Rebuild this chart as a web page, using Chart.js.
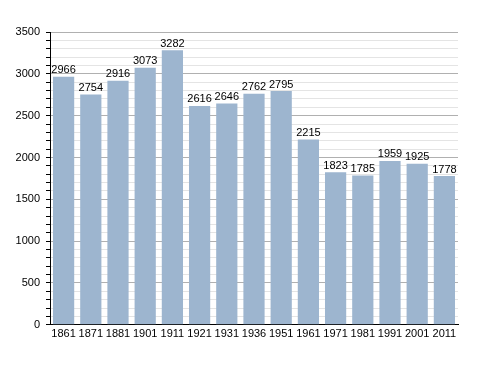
<!DOCTYPE html>
<html>
<head>
<meta charset="utf-8">
<script src="https://cdn.jsdelivr.net/npm/chart.js@4/dist/chart.umd.min.js"></script>
<style>
  html, body { margin: 0; padding: 0; background: #fff; }
  #wrap { width: 488px; height: 373px; }
</style>
</head>
<body>
<div id="wrap"><canvas id="popChart"></canvas></div>
<script>
// Population chart data
const years = ['1861', '1871', '1881', '1901', '1911', '1921', '1931', '1936',
               '1951', '1961', '1971', '1981', '1991', '2001', '2011'];
const population = [2966, 2754, 2916, 3073, 3282, 2616, 2646, 2762,
                    2795, 2215, 1823, 1785, 1959, 1925, 1778];
const yTicks = [0, 500, 1000, 1500, 2000, 2500, 3000, 3500];

// draws the value above each bar
const valueLabels = {
    id: 'valueLabels',
    afterDatasetsDraw(chart) {
        const ctx = chart.ctx;
        const meta = chart.getDatasetMeta(0);
        ctx.save();
        ctx.font = '11px "Liberation Sans", Arial, sans-serif';
        ctx.fillStyle = '#000';
        ctx.textAlign = 'center';
        ctx.textBaseline = 'bottom';
        meta.data.forEach((bar, i) => {
            ctx.fillText(String(population[i]), bar.x, bar.y - 1);
        });
        ctx.restore();
    }
};

new Chart(document.getElementById('popChart'), {
    type: 'bar',
    data: {
        labels: years,
        datasets: [{
            data: population,
            backgroundColor: '#9db5cf',
            borderWidth: 0,
            categoryPercentage: 1,
            barPercentage: 0.78
        }]
    },
    options: {
        responsive: true,
        maintainAspectRatio: false,
        animation: false,
        layout: { padding: { top: 32, right: 30, bottom: 29, left: 0 } },
        plugins: {
            legend: { display: false },
            tooltip: { enabled: false }
        },
        scales: {
            x: {
                grid: { display: false, drawTicks: false },
                border: { color: '#000', width: 1 },
                ticks: {
                    color: '#000',
                    padding: 3,
                    maxRotation: 0,
                    autoSkip: false,
                    font: { family: '"Liberation Sans", Arial, sans-serif', size: 11 }
                }
            },
            y: {
                min: 0,
                max: 3500,
                afterFit(scale) { scale.width = 50; },
                border: { color: '#000', width: 1 },
                grid: {
                    color: (c) => (c.tick.value % 500 === 0 ? '#b0b0b0' : '#e4e4e4'),
                    tickColor: '#000',
                    tickLength: 4,
                    lineWidth: 1
                },
                ticks: {
                    stepSize: 100,
                    autoSkip: false,
                    color: '#000',
                    padding: 6,
                    font: { family: '"Liberation Sans", Arial, sans-serif', size: 11 },
                    callback: (v) => (yTicks.includes(v) ? String(v) : '')
                }
            }
        }
    },
    plugins: [valueLabels]
});
</script>
</body>
</html>
